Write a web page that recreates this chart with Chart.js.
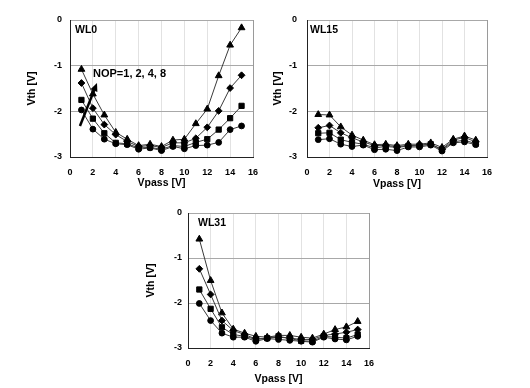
<!DOCTYPE html>
<html>
<head>
<meta charset="utf-8">
<script src="https://cdn.jsdelivr.net/npm/chart.js"></script>
<style>
  body { margin: 0; background: #fff; width: 530px; height: 388px; overflow: hidden; position: relative; }
  canvas { position: absolute; }
</style>
</head>
<body>
<canvas id="wl0" width="270" height="195" style="left:0px;top:0px"></canvas>
<canvas id="wl15" width="270" height="195" style="left:237px;top:0px"></canvas>
<canvas id="wl31" width="270" height="193" style="left:118px;top:195px"></canvas>
<script>
// Vpass values (x) and axis ticks
const vpass = [1, 2, 3, 4, 5, 6, 7, 8, 9, 10, 11, 12, 13, 14, 15];
const xTicks = [0, 2, 4, 6, 8, 10, 12, 14, 16];
const yTicks = [0, -1, -2, -3];
const nopLabels = ['NOP=1', 'NOP=2', 'NOP=4', 'NOP=8'];

// WL0  (Vth [V])
const wl0Nop1 = [-1.97, -2.39, -2.61, -2.71, -2.73, -2.83, -2.80, -2.86, -2.77, -2.82, -2.75, -2.74, -2.68, -2.40, -2.32];
const wl0Nop2 = [-1.75, -2.16, -2.48, -2.69, -2.71, -2.80, -2.79, -2.83, -2.75, -2.77, -2.68, -2.61, -2.40, -2.15, -1.88];
const wl0Nop4 = [-1.38, -1.93, -2.29, -2.51, -2.66, -2.77, -2.75, -2.79, -2.69, -2.69, -2.59, -2.35, -1.99, -1.49, -1.21];
const wl0Nop8 = [-1.08, -1.62, -2.08, -2.46, -2.61, -2.75, -2.72, -2.77, -2.63, -2.61, -2.27, -1.95, -1.22, -0.55, -0.17];

// WL15
const wl15Nop1 = [-2.62, -2.60, -2.72, -2.77, -2.74, -2.84, -2.83, -2.86, -2.78, -2.78, -2.74, -2.87, -2.69, -2.67, -2.73];
const wl15Nop2 = [-2.48, -2.47, -2.62, -2.68, -2.72, -2.80, -2.77, -2.79, -2.76, -2.75, -2.72, -2.84, -2.67, -2.63, -2.71];
const wl15Nop4 = [-2.36, -2.31, -2.47, -2.58, -2.67, -2.75, -2.75, -2.77, -2.75, -2.74, -2.72, -2.83, -2.63, -2.57, -2.67];
const wl15Nop8 = [-2.07, -2.08, -2.34, -2.52, -2.63, -2.73, -2.72, -2.75, -2.72, -2.72, -2.69, -2.79, -2.61, -2.54, -2.63];

// WL31
const wl31Nop1 = [-2.01, -2.39, -2.67, -2.76, -2.76, -2.85, -2.79, -2.81, -2.83, -2.85, -2.87, -2.76, -2.80, -2.82, -2.74];
const wl31Nop2 = [-1.70, -2.13, -2.54, -2.70, -2.74, -2.81, -2.78, -2.74, -2.79, -2.84, -2.85, -2.74, -2.76, -2.78, -2.70];
const wl31Nop4 = [-1.24, -1.81, -2.39, -2.61, -2.70, -2.80, -2.78, -2.76, -2.78, -2.81, -2.81, -2.72, -2.69, -2.65, -2.59];
const wl31Nop8 = [-0.58, -1.50, -2.22, -2.58, -2.67, -2.74, -2.76, -2.72, -2.72, -2.76, -2.78, -2.69, -2.59, -2.53, -2.41];

const markers = [
  { style: 'circle', r: 2.9 },
  { style: 'rect', r: 3.7 },
  { style: 'rectRot', r: 3.4 },
  { style: 'triangle', r: 3.9 }
];

const FONT = 'Arial, "Liberation Sans", sans-serif';

// text inside the plot area + the NOP arrow
const notesPlugin = {
  id: 'notes',
  afterDatasetsDraw(chart, args, opts) {
    const { ctx, chartArea, scales } = chart;
    ctx.save();
    ctx.fillStyle = '#000';
    ctx.textBaseline = 'alphabetic';
    ctx.font = 'bold 10.5px ' + FONT;
    ctx.fillText(opts.title, chartArea.left + opts.titleDx, chartArea.top + 13);
    if (opts.arrow) {
      const a = opts.arrow;
      const x1 = scales.x.getPixelForValue(a.from[0]), y1 = scales.y.getPixelForValue(a.from[1]);
      const x2 = scales.x.getPixelForValue(a.to[0]), y2 = scales.y.getPixelForValue(a.to[1]);
      const ang = Math.atan2(y2 - y1, x2 - x1);
      ctx.strokeStyle = '#000';
      ctx.lineWidth = 2.5;
      ctx.beginPath();
      ctx.moveTo(x1, y1);
      ctx.lineTo(x2 - 6 * Math.cos(ang), y2 - 6 * Math.sin(ang));
      ctx.stroke();
      ctx.beginPath();
      ctx.moveTo(x2, y2);
      ctx.lineTo(x2 - 9 * Math.cos(ang - 0.42), y2 - 9 * Math.sin(ang - 0.42));
      ctx.lineTo(x2 - 9 * Math.cos(ang + 0.42), y2 - 9 * Math.sin(ang + 0.42));
      ctx.closePath();
      ctx.fill();
      ctx.font = 'bold 11px ' + FONT;
      ctx.fillText(a.text, chartArea.left + 23, chartArea.top + 57);
    }
    ctx.restore();
  }
};

function makePanel(id, series, p) {
  const datasets = series.map((vals, i) => ({
    label: nopLabels[i],
    data: vpass.map((v, k) => ({ x: v, y: vals[k] })),
    borderColor: '#3a3a3a',
    borderWidth: 1,
    pointStyle: markers[i].style,
    pointRadius: markers[i].r,
    pointBackgroundColor: '#000',
    pointBorderColor: '#000',
    pointBorderWidth: 1,
    tension: 0
  }));

  new Chart(document.getElementById(id), {
    type: 'line',
    data: { datasets },
    plugins: [notesPlugin],
    options: {
      responsive: false,
      animation: false,
      devicePixelRatio: 1,
      layout: { padding: { top: p.padTop, right: p.padRight, left: 0, bottom: 0 } },
      plugins: {
        legend: { display: false },
        tooltip: { enabled: false },
        notes: { title: p.title, titleDx: p.titleDx, arrow: p.arrow }
      },
      scales: {
        x: {
          type: 'linear',
          min: 0, max: 16,
          afterBuildTicks: s => { s.ticks = xTicks.map(v => ({ value: v })); },
          afterFit: s => { s.height = p.xHeight; },
          ticks: { color: '#000', padding: p.xTickPad, font: { family: FONT, size: 9, weight: 'bold' } },
          grid: {
            drawTicks: false,
            color: c => (c.tick && c.tick.value === 16) ? '#9a9a9a' : '#e2e2e2'
          },
          border: { color: '#222', width: 1 },
          title: {
            display: true, text: 'Vpass [V]', color: '#000',
            padding: { top: 0, bottom: p.xTitlePad },
            font: { family: FONT, size: 10.5, weight: 'bold' }
          }
        },
        y: {
          type: 'linear',
          min: -3, max: 0,
          afterBuildTicks: s => { s.ticks = yTicks.map(v => ({ value: v })); },
          afterFit: s => { s.width = p.yWidth; },
          ticks: { color: '#000', padding: p.yTickPad, font: { family: FONT, size: 9, weight: 'bold' } },
          grid: { drawTicks: false, color: '#a8a8a8' },
          border: { color: '#222', width: 1 },
          title: {
            display: true, text: 'Vth [V]', color: '#000',
            padding: { top: p.yTitlePad, bottom: 0 },
            font: { family: FONT, size: 10.5, weight: 'bold' }
          }
        }
      }
    }
  });
}

makePanel('wl0', [wl0Nop1, wl0Nop2, wl0Nop4, wl0Nop8], {
  title: 'WL0', titleDx: 5, padTop: 20, padRight: 17, yWidth: 70, xHeight: 38,
  xTickPad: 10, yTickPad: 8, xTitlePad: 6, yTitlePad: 26,
  arrow: { from: [0.87, -2.32], to: [2.36, -1.38], text: 'NOP=1, 2, 4, 8' }
});
makePanel('wl15', [wl15Nop1, wl15Nop2, wl15Nop4, wl15Nop8], {
  title: 'WL15', titleDx: 3, padTop: 20, padRight: 20, yWidth: 70, xHeight: 38,
  xTickPad: 10, yTickPad: 10, xTitlePad: 5, yTitlePad: 35
});
makePanel('wl31', [wl31Nop1, wl31Nop2, wl31Nop4, wl31Nop8], {
  title: 'WL31', titleDx: 10, padTop: 18, padRight: 19, yWidth: 70, xHeight: 40,
  xTickPad: 10, yTickPad: 6, xTitlePad: 3, yTitlePad: 27
});
</script>
</body>
</html>
